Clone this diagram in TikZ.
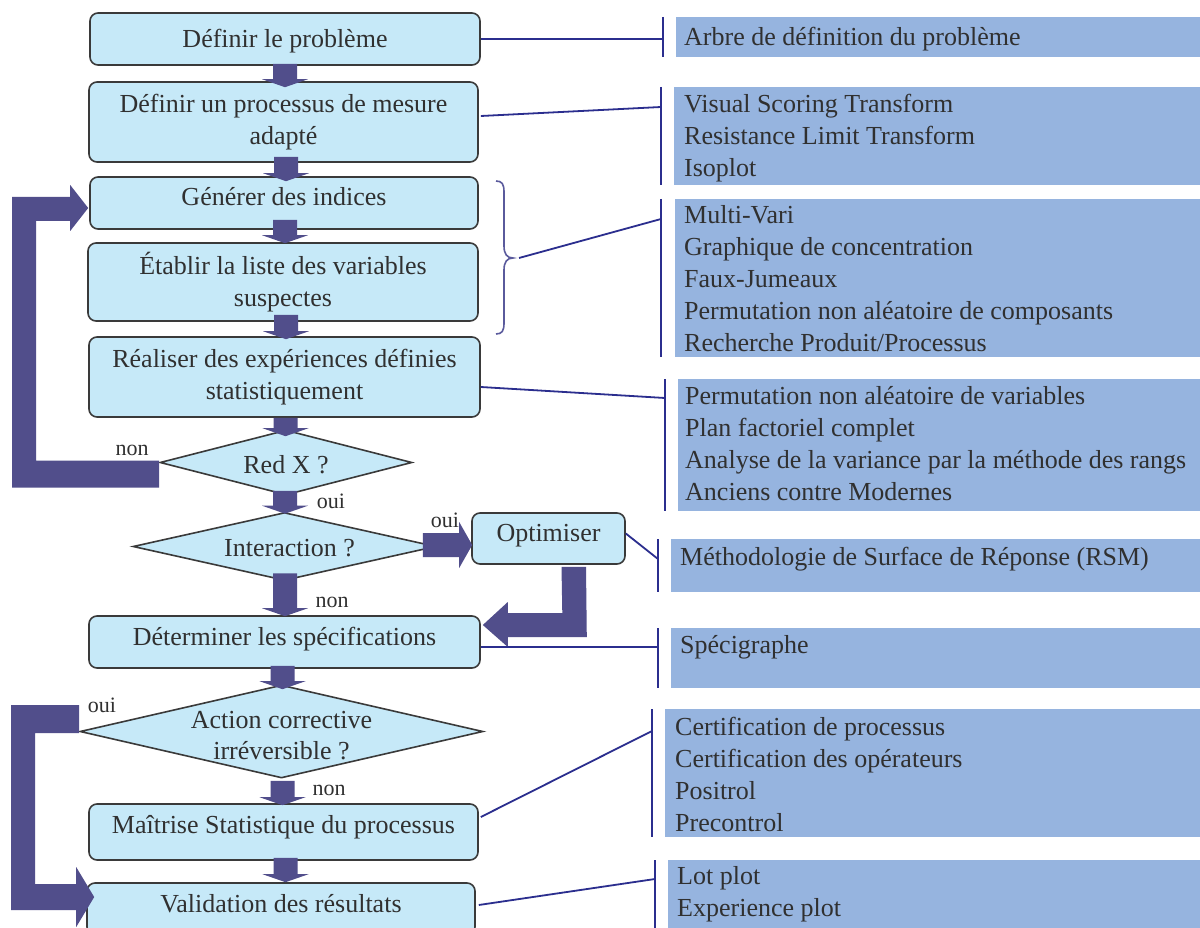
\documentclass[tikz,border=0pt]{standalone}
\usepackage{fontspec}
\setmainfont{Liberation Serif}
\usetikzlibrary{shapes.geometric,calc}

\definecolor{stagefill}{HTML}{C6E9F8}
\definecolor{stageline}{HTML}{3A3A3A}
\definecolor{flowblue}{HTML}{514E8B}
\definecolor{toolfill}{HTML}{96B4DF}
\definecolor{linkblue}{HTML}{2B2E8E}
\definecolor{bracecol}{HTML}{5A5A9C}
\definecolor{inkgray}{HTML}{303030}

\newcommand{\stagefont}{\fontsize{26}{31.5}\selectfont}
\newcommand{\toolfont}{\fontsize{26}{32}\selectfont}
\newcommand{\tagfont}{\fontsize{22}{26}\selectfont}

% downward block arrow: shaft starts at #1, head tip at the height of #2
\newcommand{\blockdown}[2]{%
  \fill[flowblue] let \p1=(#1), \p2=(#2) in
    (\x1-12pt,\y1) -- (\x1+12pt,\y1) -- (\x1+12pt,\y2+8pt) -- (\x1+23pt,\y2+8pt)
    -- (\x1,\y2) -- (\x1-23pt,\y2+8pt) -- (\x1-12pt,\y2+8pt) -- cycle;}

% list of tools, first baseline at the node anchor
\newcommand{\toolitems}[1]{\parbox[t]{520pt}{\toolfont\raggedright #1}}

\begin{document}
\begin{tikzpicture}[x=1pt,y=-1pt,
  stagebox/.style={draw=stageline, line width=1.6pt, fill=stagefill,
    rounded corners=8pt, inner sep=0pt, font=\stagefont, align=center, text=inkgray},
  lift/.style={text height=18pt, text depth=#1},
  decisionbox/.style={diamond, draw=stageline, line width=1.6pt, fill=stagefill, inner sep=0pt},
  captiontext/.style={font=\stagefont, text=inkgray, align=center, inner sep=0pt},
  branchtag/.style={font=\tagfont, text=inkgray, inner sep=0pt, anchor=base},
  toolpanel/.style={fill=toolfill, inner sep=0pt, anchor=north west},
  toolbar/.style={draw=linkblue, line width=2.4pt},
  toollink/.style={draw=linkblue, line width=1.8pt},
  toollist/.style={text=inkgray, inner sep=0pt, anchor=base west}]

\useasboundingbox (0,0) rectangle (1200,928);
\clip (0,0) rectangle (1200,928);
\fill[white] (0,0) rectangle (1200,928);

% ---------- process steps ----------
\node[stagebox, lift=0pt, minimum width=390pt, minimum height=52pt] (b1) at (285,39) {Définir le problème};
\node[stagebox, minimum width=389pt, minimum height=80pt] (b2) at (283.5,122) {Définir un processus de mesure\\adapté};
\node[stagebox, lift=12pt, minimum width=388pt, minimum height=52pt] (b3) at (284,203) {Générer des indices};
\node[stagebox, minimum width=390pt, minimum height=78pt] (b4) at (283,282) {Établir la liste des variables\\suspectes};
\node[stagebox, minimum width=391pt, minimum height=80pt] (b5) at (284.5,377) {Réaliser des expériences définies\\statistiquement};

\node[decisionbox, minimum width=252pt, minimum height=65pt] (d1) at (286,462.5) {};
\node[captiontext] (c1) at ($(d1.center)+(0,2)$) {Red X ?};

\node[decisionbox, minimum width=303pt, minimum height=68pt] (d2) at (284.5,546.5) {};
\node[captiontext] (c2) at ($(d2.center)+(5,2)$) {Interaction ?};

\node[stagebox, lift=12pt, minimum width=153pt, minimum height=51pt] (opt) at (548.5,538.5) {Optimiser};

\node[stagebox, lift=12pt, minimum width=391pt, minimum height=52pt] (b6) at (284.5,642) {Déterminer les spécifications};

\node[decisionbox, minimum width=403pt, minimum height=93pt] (d3) at (281.5,731.5) {};
\node[captiontext] (c3) at ($(d3.center)+(0,4)$) {Action corrective\\irréversible ?};

\node[stagebox, lift=16pt, minimum width=389pt, minimum height=56pt] (b7) at (283.5,832) {Maîtrise Statistique du processus};
\node[stagebox, lift=12pt, minimum width=388pt, minimum height=52pt] (b8) at (281,909) {Validation des résultats};

% ---------- straight flow arrows ----------
\blockdown{$(b1.south)+(0,-2)$}{$(b2.north)+(0,6)$}
\blockdown{$(b2.south)+(2.5,-6)$}{$(b3.north)+(0,5)$}
\blockdown{$(b3.south)+(1,-10)$}{$(b4.north)+(0,1)$}
\blockdown{$(b4.south)+(3,-7)$}{$(b5.north)+(0,3)$}
\blockdown{$(b5.south)+(1,0)$}{$(d1.north)+(0,7)$}
\blockdown{$(d1.south)+(-1,-5)$}{$(d2.north)+(0,2)$}
\blockdown{$(d2.south)+(0.5,-8)$}{$(b6.north)+(0,1)$}
\blockdown{$(b6.south)+(-2,-3)$}{$(d3.north)+(0,5)$}
\blockdown{$(d3.south)+(1,2)$}{$(b7.north)+(0,2)$}
\blockdown{$(b7.south)+(2,-3)$}{$(b8.north)+(0,0)$}

% ---------- loop back: Red X ? (non) -> Générer des indices ----------
\fill[flowblue] ($(d1.west)+(0,-2)$) -- ($(d1.west)+(-123,-2)$) -- ($(b3.west)+(-53,18)$)
  -- ($(b3.west)+(-19,18)$) -- ($(b3.west)+(-19,28)$) -- ($(b3.west)+(-1,5)$)
  -- ($(b3.west)+(-19,-18)$) -- ($(b3.west)+(-19,-6)$) -- ($(b3.west)+(-77,-6)$)
  -- ($(d1.west)+(-147,25)$) -- ($(d1.west)+(0,25)$) -- cycle;

% ---------- Interaction ? (oui) -> Optimiser ----------
\fill[flowblue] ($(d2.east)+(-14,-13.5)$) -- ($(opt.west)+(-12,-5.5)$) -- ($(opt.west)+(-12,-16.5)$)
  -- ($(opt.west)+(1,6.5)$) -- ($(opt.west)+(-12,29.5)$) -- ($(opt.west)+(-12,18.5)$)
  -- ($(d2.east)+(-14,10.5)$) -- cycle;

% ---------- Optimiser -> Déterminer les spécifications ----------
\fill[flowblue] ($(opt.south)+(13,2)$) -- ($(opt.south)+(37.5,2)$) -- ($(b6.east)+(106,-5)$)
  -- ($(b6.east)+(27,-5)$) -- ($(b6.east)+(27,5)$) -- ($(b6.east)+(2,-17)$)
  -- ($(b6.east)+(27,-40)$) -- ($(b6.east)+(27,-29)$) -- ($(b6.east)+(81.5,-29)$) -- cycle;

% ---------- Action corrective (oui) -> Validation des résultats ----------
\fill[flowblue] ($(d3.west)+(0,-26.5)$) -- ($(d3.west)+(-68,-26.5)$) -- ($(b8.west)+(-75,1)$)
  -- ($(b8.west)+(-10,1)$) -- ($(b8.west)+(-10,18)$) -- ($(b8.west)+(8,-12)$)
  -- ($(b8.west)+(-10,-42)$) -- ($(b8.west)+(-10,-25)$) -- ($(b8.west)+(-51,-25)$)
  -- ($(d3.west)+(-44,1.5)$) -- ($(d3.west)+(0,1.5)$) -- cycle;

% ---------- branch labels ----------
\node[branchtag] (n1) at (132,455) {non};
\node[branchtag] (o1) at (331,508) {oui};
\node[branchtag] (o2) at (445,527) {oui};
\node[branchtag] (n2) at (332,607) {non};
\node[branchtag] (o3) at (102,712) {oui};
\node[branchtag] (n3) at (329,795) {non};

% ---------- tool panels ----------
\node[toolpanel, minimum width=530pt, minimum height=40pt] (r1) at (676,17) {};
\node[toolpanel, minimum width=532pt, minimum height=98pt] (r2) at (674,87) {};
\node[toolpanel, minimum width=531pt, minimum height=158pt] (r3) at (675,199) {};
\node[toolpanel, minimum width=528pt, minimum height=132pt] (r4) at (678,379) {};
\node[toolpanel, minimum width=535pt, minimum height=53pt] (r5) at (671,539) {};
\node[toolpanel, minimum width=535pt, minimum height=60pt] (r6) at (671,628) {};
\node[toolpanel, minimum width=541pt, minimum height=128pt] (r7) at (665,709) {};
\node[toolpanel, minimum width=538pt, minimum height=80pt] (r8) at (668,860) {};

\node[toollist] (t1) at (684,45.5) {\toolitems{Arbre de définition du problème}};
\node[toollist] (t2) at (684,112.5) {\toolitems{Visual Scoring Transform\\Resistance Limit Transform\\Isoplot}};
\node[toollist] (t3) at (684,223.5) {\toolitems{Multi-Vari\\Graphique de concentration\\Faux-Jumeaux\\Permutation non aléatoire de composants\\Recherche Produit/Processus}};
\node[toollist] (t4) at (685,404.5) {\toolitems{Permutation non aléatoire de variables\\Plan factoriel complet\\Analyse de la variance par la méthode des rangs\\Anciens contre Modernes}};
\node[toollist] (t5) at (680,565.5) {\toolitems{Méthodologie de Surface de Réponse (RSM)}};
\node[toollist] (t6) at (680,653.5) {\toolitems{Spécigraphe}};
\node[toollist] (t7) at (675,735.5) {\toolitems{Certification de processus\\Certification des opérateurs\\Positrol\\Precontrol}};
\node[toollist] (t8) at (677,884.5) {\toolitems{Lot plot\\Experience plot}};

% bars on the left of each panel, with their attach points
\foreach \r/\dx/\dy in {r1/13/22, r2/13/20, r3/14/20, r4/13/19, r5/13/20, r6/13/19, r7/13/22, r8/13/19}{
  \draw[toolbar] ($(\r.north west)+(-\dx,0)$) -- ($(\r.south west)+(-\dx,0)$);
  \coordinate (k\r) at ($(\r.north west)+(-\dx,\dy)$);
}

% brace grouping the two search steps
\coordinate (brtip) at (513,258);
\draw[bracecol, line width=1.6pt] (496,181) .. controls (502,181) and (504,184) .. (504,192)
  -- (504,246) .. controls (504,254) and (507,258) .. (brtip)
  .. controls (507,258) and (504,262) .. (504,270)
  -- (504,323) .. controls (504,331) and (502,334) .. (496,334);

% links from steps to tool panels
\draw[toollink] (b1.east) -- (kr1);
\draw[toollink] ($(b2.east)+(2,-6)$) -- (kr2);
\draw[toollink] ($(brtip)+(6,0)$) -- (kr3);
\draw[toollink] ($(b5.east)+(0,10)$) -- (kr4);
\draw[toollink] ($(opt.east)+(0,-5)$) -- (kr5);
\draw[toollink] ($(b6.east)+(0,5)$) -- (kr6);
\draw[toollink] ($(b7.east)+(2,-15)$) -- (kr7);
\draw[toollink] ($(b8.east)+(3,-4)$) -- (kr8);

\end{tikzpicture}
\end{document}
